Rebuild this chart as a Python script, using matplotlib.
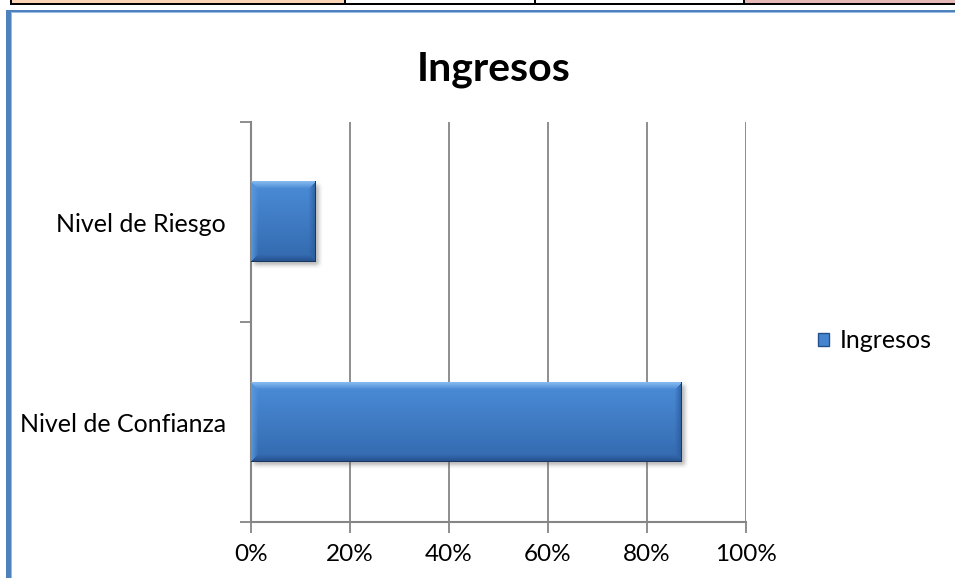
import numpy as np
import matplotlib.pyplot as plt
from matplotlib.patches import Rectangle
from matplotlib.ticker import FixedLocator, FixedFormatter

categories = ["Nivel de Confianza", "Nivel de Riesgo"]
values = [0.87, 0.13]
series_name = "Ingresos"
x_ticks = [0.0, 0.2, 0.4, 0.6, 0.8, 1.0]
x_labels = ["0%", "20%", "40%", "60%", "80%", "100%"]

plt.rcParams["font.family"] = ["Lato", "DejaVu Sans"]

W, H = 955, 578
GRID = "#868686"
fig = plt.figure(figsize=(W / 100, H / 100), dpi=100)


def fx(x):
    return x / W


def fy(y):
    return 1 - y / H


def frect(x0, y0, x1, y1, **kw):
    # rectangle given in pixel coords measured from the top-left corner
    fig.patches.append(Rectangle((fx(x0), fy(y1)), fx(x1) - fx(x0), fy(y0) - fy(y1),
                                 transform=fig.transFigure, **kw))


# spreadsheet row peeking in above the chart
frect(11, 0, 345, 3.5, facecolor="#fbd4b4", edgecolor="none")
frect(745, 0, 955, 3.5, facecolor="#e6b9b8", edgecolor="none")
frect(10, 3, 955, 5, facecolor="black", edgecolor="none")
frect(10, 0, 12, 5, facecolor="black", edgecolor="none")
for xd in (344, 534, 743):
    frect(xd, 0, xd + 1.5, 5, facecolor="black", edgecolor="none")

# chart frame (top and left edges)
frect(6, 10, 955, 12, facecolor="#4f81bd", edgecolor="none")
frect(6, 12, 955, 13, facecolor="#9bbbe0", edgecolor="none")
frect(6, 10, 10.5, 578, facecolor="#4f81bd", edgecolor="none")
frect(10.5, 13, 11.5, 578, facecolor="#9bbbe0", edgecolor="none")

ax = fig.add_axes([fx(251), fy(522), fx(746) - fx(251), fy(122) - fy(522)])
ypos = np.arange(len(categories)) + 0.5
bars = ax.barh(ypos, values, height=0.4, color="none", edgecolor="none")

ax.set_xlim(0, 1)
ax.set_ylim(0, len(categories))
ax.set_axisbelow(True)
ax.xaxis.set_major_locator(FixedLocator(x_ticks))
ax.xaxis.set_major_formatter(FixedFormatter(x_labels))
ax.grid(axis="x", color=GRID, linewidth=1.3)
ax.yaxis.set_major_locator(FixedLocator(range(len(categories) + 1)))
ax.yaxis.set_major_formatter(FixedFormatter([""] * (len(categories) + 1)))
ax.yaxis.set_minor_locator(FixedLocator(ypos))
ax.yaxis.set_minor_formatter(FixedFormatter(categories))
ax.tick_params(axis="y", which="major", length=8, width=1.3, color=GRID, direction="out")
ax.tick_params(axis="y", which="minor", length=0, pad=18, labelsize=18)
ax.tick_params(axis="x", length=8, width=1.3, color=GRID, direction="out", pad=8, labelsize=17.5)
for side in ("top", "right"):
    ax.spines[side].set_visible(False)
for side in ("left", "bottom"):
    ax.spines[side].set_color(GRID)
    ax.spines[side].set_linewidth(1.5)


def box_blur(a, r):
    k = np.ones(2 * r + 1) / (2 * r + 1)
    a = np.apply_along_axis(lambda v: np.convolve(v, k, mode="same"), 0, a)
    return np.apply_along_axis(lambda v: np.convolve(v, k, mode="same"), 1, a)


def bevel_bar(patch):
    x0, y0 = patch.get_x(), patch.get_y()
    x1, y1 = x0 + patch.get_width(), y0 + patch.get_height()
    (p0x, p0y), (p1x, p1y) = ax.transData.transform([(x0, y0), (x1, y1)])
    nw, nh = int(round(p1x - p0x)), int(round(p1y - p0y))
    inv = ax.transData.inverted()

    # soft drop shadow, offset down and right
    pad, off = 8, 3
    a = np.zeros((nh + 2 * pad, nw + 2 * pad))
    a[pad:pad + nh, pad:pad + nw] = 0.45
    a = box_blur(box_blur(a, 2), 2)
    sh = np.zeros(a.shape + (4,))
    sh[..., :3] = 0.35
    sh[..., 3] = a
    (sx0, sy0), (sx1, sy1) = inv.transform([(p0x - pad + off, p0y - pad - off),
                                            (p1x + pad + off, p1y + pad - off)])
    ax.imshow(sh, extent=(sx0, sx1, sy0, sy1), origin="upper", aspect="auto",
              interpolation="bilinear", zorder=2, clip_on=False)

    # body: vertical gradient
    t = np.linspace(0, 1, nh)[:, None, None]
    top = np.array([0x4b, 0x8d, 0xd8]) / 255
    bot = np.array([0x33, 0x69, 0xae]) / 255
    img = np.repeat(top + (bot - top) * t, nw, axis=1)

    # bevel bands on each edge, mitered at the corners
    yy, xx = np.mgrid[0:nh, 0:nw]
    d = np.stack([yy, nh - 1 - yy, xx, nw - 1 - xx])
    near = d.argmin(axis=0)
    m = d.min(axis=0)
    b = 7
    edge_cols = [np.array([0x8e, 0xc1, 0xf2]) / 255,   # top
                 np.array([0x24, 0x4c, 0x86]) / 255,   # bottom
                 np.array([0x5a, 0x9c, 0xe2]) / 255,   # left
                 np.array([0x2c, 0x5b, 0x99]) / 255]   # right
    w = np.clip(1 - m / b, 0, 1)[..., None]
    for i, c in enumerate(edge_cols):
        sel = (near == i)[..., None]
        img = np.where(sel, img * (1 - w * 0.85) + c * w * 0.85, img)
    img[-1, :] = np.array([0x1a, 0x38, 0x62]) / 255
    img[:, -1] = np.array([0x1a, 0x38, 0x62]) / 255
    ax.imshow(img, extent=(x0, x1, y0, y1), origin="upper", aspect="auto",
              interpolation="bilinear", zorder=3)


for patch in bars.patches:
    bevel_bar(patch)
ax.set_xlim(0, 1)
ax.set_ylim(0, len(categories))

fig.text(fx(494), fy(70), series_name, ha="center", va="center",
         fontsize=29.5, fontweight="bold")

handle = Rectangle((0, 0), 1, 1, facecolor="#4585d0", edgecolor="#24508c", linewidth=1)
fig.legend([handle], [series_name], loc="center left",
           bbox_to_anchor=(fx(805), fy(341)), frameon=False, fontsize=18,
           handlelength=0.45, handleheight=0.4, handletextpad=0.45, borderpad=0)

fig.savefig("out.png", dpi=100)
